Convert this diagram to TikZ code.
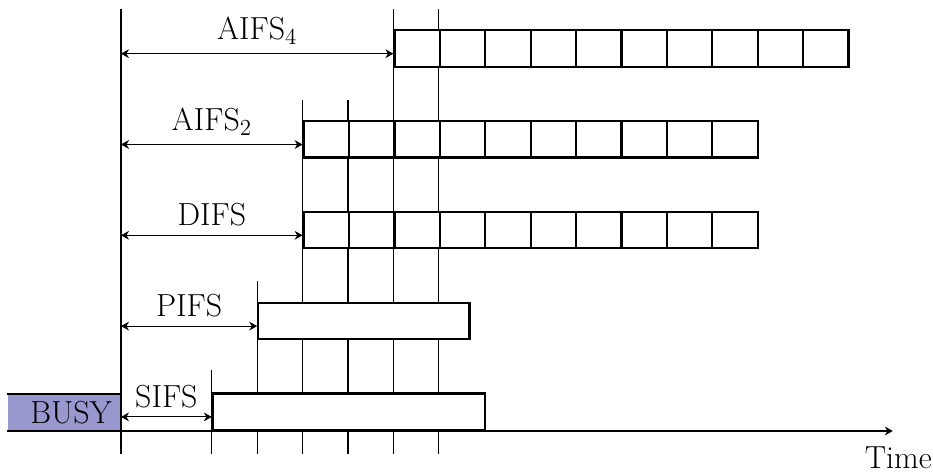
\documentclass[tikz,border=0pt]{standalone}
\usetikzlibrary{positioning,arrows.meta}
\definecolor{busyblue}{RGB}{152,152,206}
\begin{document}
\begin{tikzpicture}[x=1cm, y=1cm, >={Stealth[length=5pt,width=5.5pt,inset=1.6pt]}, font=\fontsize{20}{24}\selectfont]
    % Styles
    \tikzstyle{slot} = [draw, fill=white, line width=1.4pt, rectangle, minimum height=0.8cm, minimum width=1cm, inner sep=0pt, anchor=south west]
    \tikzstyle{frame} = [slot, minimum width=6cm]
    \tikzstyle{busy} = [fill=busyblue, rectangle, minimum height=0.8cm, minimum width=2.49cm, inner sep=0pt, anchor=south east]
    \tikzstyle{guide} = [line width=0.7pt]
    \tikzstyle{span} = [<->, line width=0.7pt]
    \useasboundingbox (-2.665,-0.925) rectangle (17.885,9.493);

    % Guide lines
    \foreach \x/\top in {0/9.3, 2/1.35, 3/3.3, 4/7.3, 5/7.3, 6/9.3, 7/9.3}
        \draw [guide] (\x,-0.5) -- (\x,\top);

    % Time axis
    \coordinate (axisstart) at (-2.49,0);
    \coordinate (axisend) at (17,0);
    \draw [guide, ->] (axisstart) -- (axisend);
    \node [below=0.22cm of axisend, xshift=0.12cm] (time) {Time};

    % Nodes
    \node [busy] (busy) at (0,0) {};
    \draw [line width=1.4pt] (busy.north west) -- (busy.north east) -- (busy.south east) -- (busy.south west);
    \node at (-1.1,0.4) (busytext) {BUSY};
    \node [frame] (sifs) at (2,0) {};
    \node [frame, minimum width=4.65cm] (pifs) at (3,2) {};
    \foreach \i in {0,...,9} {
        \node [slot] (difs-\i) at (4+\i,4) {};
        \node [slot] (aifstwo-\i) at (4+\i,6) {};
        \node [slot] (aifsfour-\i) at (6+\i,8) {};
    }

    % Connections
    \coordinate (sifsleft) at (0,0.31);
    \coordinate (pifsleft) at (0,2.31);
    \coordinate (difsleft) at (0,4.31);
    \coordinate (aifstwoleft) at (0,6.31);
    \coordinate (aifsfourleft) at (0,8.31);
    \draw [span] (sifsleft) -- node [above=2pt] {SIFS} (sifsleft -| sifs.west);
    \draw [span] (pifsleft) -- node [above=2pt] {PIFS} (pifsleft -| pifs.west);
    \draw [span] (difsleft) -- node [above=2pt] {DIFS} (difsleft -| difs-0.west);
    \draw [span] (aifstwoleft) -- node [above=2pt] {AIFS$_2$} (aifstwoleft -| aifstwo-0.west);
    \draw [span] (aifsfourleft) -- node [above=2pt] {AIFS$_4$} (aifsfourleft -| aifsfour-0.west);
\end{tikzpicture}
\end{document}
